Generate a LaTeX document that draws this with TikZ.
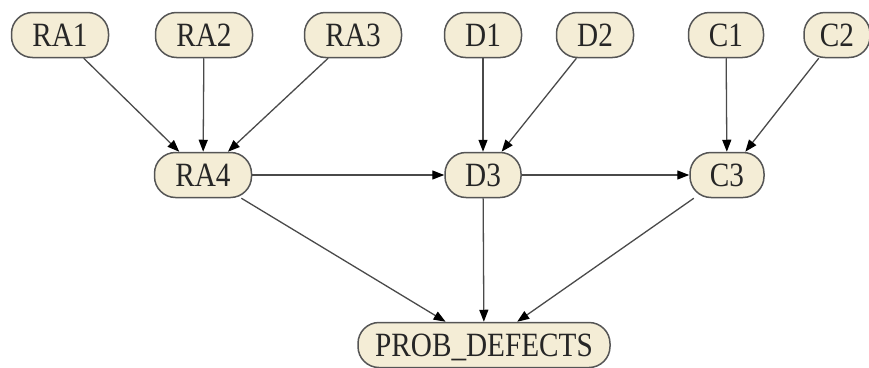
\documentclass[tikz,border=0pt]{standalone}
\usepackage{fontspec}
\usepackage{graphicx}
\setmainfont{Liberation Serif}
\usetikzlibrary{arrows.meta}
\definecolor{nodefill}{HTML}{F4EDD6}
\definecolor{nodeline}{HTML}{555555}
\definecolor{edgeline}{HTML}{4A4A4A}
\newcommand{\nodetxt}[1]{\scalebox{0.86}[1]{#1}}
\tikzset{
  bnode/.style={draw=nodeline, line width=1.5pt, fill=nodefill, rounded corners=21pt,
    minimum height=45pt, inner sep=0pt, text height=23pt, text depth=0pt,
    font=\fontsize{34}{34}\selectfont, text=black!85},
  edge/.style={draw=edgeline, line width=1.3pt,
    -{Triangle[length=12pt,width=9pt,color=black]}}
}
\begin{document}
\begin{tikzpicture}[x=1pt,y=-1pt]
\useasboundingbox (0,0) rectangle (869,367);
\node[bnode, minimum width=97pt] (RA1) at (60,35) {\nodetxt{RA1}};
\node[bnode, minimum width=97pt] (RA2) at (204,35) {\nodetxt{RA2}};
\node[bnode, minimum width=97pt] (RA3) at (353,35) {\nodetxt{RA3}};
\node[bnode, minimum width=77pt] (D1) at (483,35) {\nodetxt{D1}};
\node[bnode, minimum width=77pt] (D2) at (595,35) {\nodetxt{D2}};
\node[bnode, minimum width=75pt] (C1) at (726,35) {\nodetxt{C1}};
\node[bnode, minimum width=66pt] (C2) at (837,35) {\nodetxt{C2}};
\node[bnode, minimum width=97pt] (RA4) at (203,175) {\nodetxt{RA4}};
\node[bnode, minimum width=76pt] (D3) at (483,175) {\nodetxt{D3}};
\node[bnode, minimum width=74pt] (C3) at (727,175) {\nodetxt{C3}};
\node[bnode, minimum width=252pt] (PD) at (484,345) {\nodetxt{PROB\_DEFECTS}};
\draw[edge] (RA1) -- (RA4);
\draw[edge] (RA2) -- (RA4);
\draw[edge] (RA3) -- (RA4);
\draw[edge] (D1) -- (D3);
\draw[edge] (D2) -- (D3);
\draw[edge] (C1) -- (C3);
\draw[edge] (C2) -- (C3);
\draw[edge] (RA4) -- (D3);
\draw[edge] (D3) -- (C3);
\draw[edge] (RA4) -- (PD);
\draw[edge] (D3) -- (PD);
\draw[edge] (C3) -- (PD);
\end{tikzpicture}
\end{document}
